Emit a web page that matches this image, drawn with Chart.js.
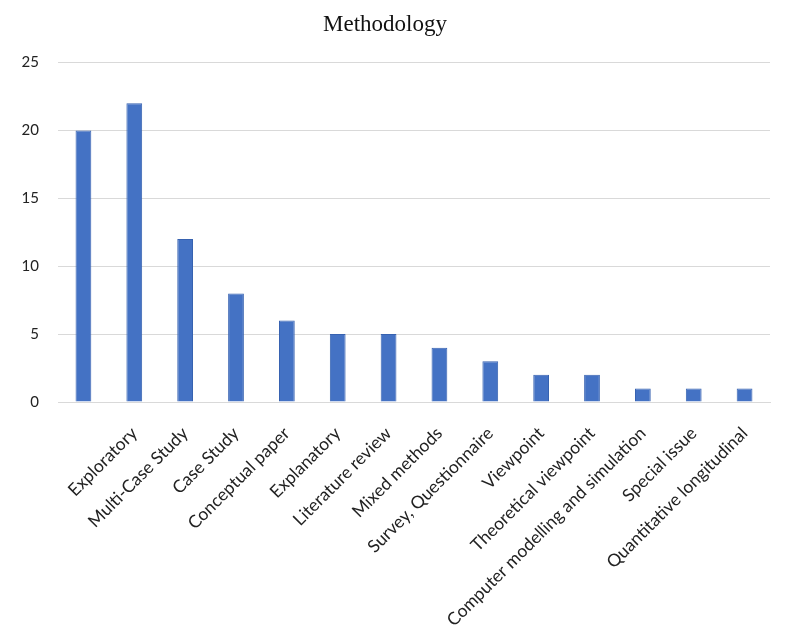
<!DOCTYPE html>
<html>
<head>
<meta charset="utf-8">
<script src="https://cdn.jsdelivr.net/npm/chart.js@4"></script>
<style>
  html, body { margin: 0; padding: 0; background: #fff; }
  #wrap { width: 787px; height: 643px; }
</style>
</head>
<body>
<div id="wrap"><canvas id="methodChart"></canvas></div>
<script>
const categories = ['', 'Exploratory', 'Multi-Case Study', 'Case Study', 'Conceptual paper',
  'Explanatory', 'Literature review', 'Mixed methods', 'Survey, Questionnaire', 'Viewpoint',
  'Theoretical viewpoint', 'Computer modelling and simulation', 'Special issue',
  'Quantitative longitudinal'];
const counts = [20, 22, 12, 8, 6, 5, 5, 4, 3, 2, 2, 1, 1, 1];
const yTicks = [0, 5, 10, 15, 20, 25];

const ctx = document.getElementById('methodChart');

const chart = new Chart(ctx, {
  type: 'bar',
  data: {
    labels: categories,
    datasets: [
      {
        data: counts,
        backgroundColor: '#4472C4',
        borderColor: '#3762B0',
        borderWidth: 1,
        barPercentage: 0.31,
        categoryPercentage: 1
      }
    ]
  },
  options: {
    responsive: true,
    maintainAspectRatio: false,
    animation: false,
    layout: {
      padding: { left: 0, right: 17, top: 0, bottom: 0 }
    },
    plugins: {
      legend: { display: false },
      tooltip: { enabled: false },
      title: {
        display: true,
        text: 'Methodology',
        color: '#111',
        font: { family: '"Liberation Serif", "Times New Roman", serif', size: 23, weight: 'normal' },
        padding: { top: 11, bottom: 24 }
      }
    },
    scales: {
      x: {
        grid: { display: false, drawTicks: false },
        border: { color: '#D9D9D9', width: 1 },
        ticks: {
          autoSkip: false,
          maxRotation: 45,
          minRotation: 45,
          padding: 21,
          color: '#222',
          font: { family: 'Lato, "Open Sans", sans-serif', size: 17.5 }
        },
        afterFit(scale) {
          scale.height = 241;
        }
      },
      y: {
        min: 0,
        max: 25,
        afterBuildTicks(scale) {
          scale.ticks = yTicks.map(v => ({ value: v }));
        },
        grid: { color: '#D9D9D9', drawTicks: false },
        border: { display: false },
        ticks: {
          padding: 19,
          color: '#222',
          font: { family: 'Lato, "Open Sans", sans-serif', size: 15 }
        },
        afterFit(scale) {
          scale.width = 58;
        }
      }
    }
  }
});
</script>
</body>
</html>
